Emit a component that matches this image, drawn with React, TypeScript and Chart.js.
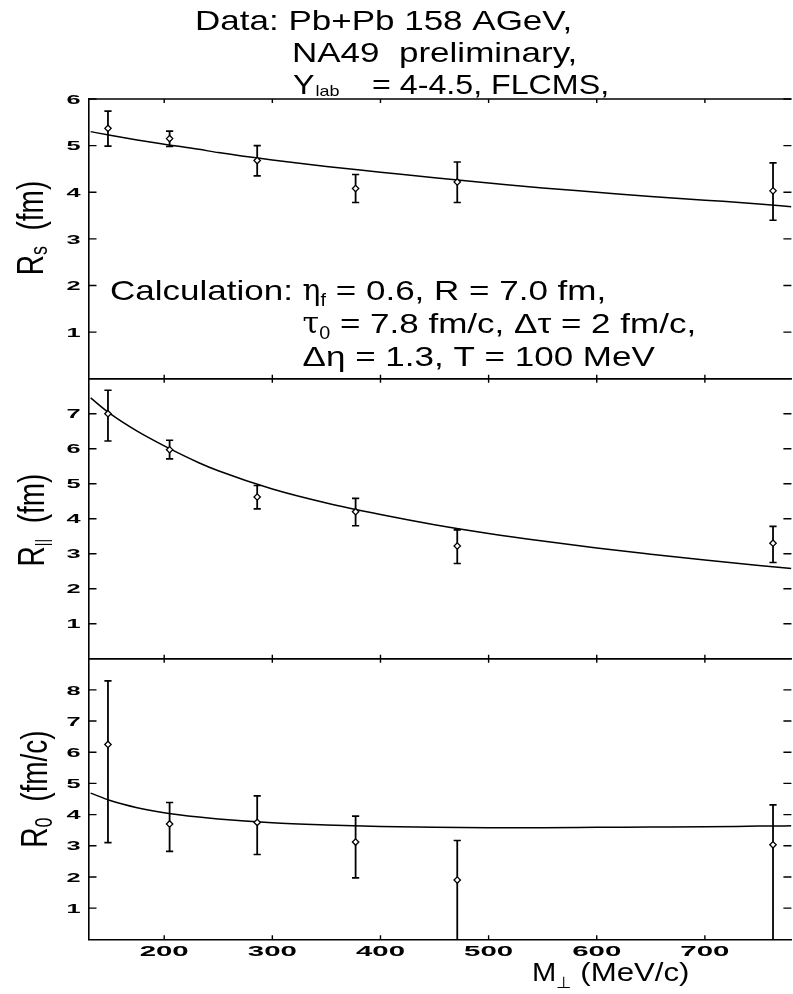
import React, { useEffect, useRef } from "react";
import { Chart, registerables } from "chart.js";
Chart.register(...registerables);

// ---- data ----
const MT = [148, 205, 286, 377, 471, 763];
const RS = [5.37, 5.15, 4.68, 4.08, 4.22, 4.03];
const RS_LO = [4.99, 4.98, 4.35, 3.78, 3.78, 3.4];
const RS_HI = [5.74, 5.31, 5.0, 4.38, 4.65, 4.63];
const RL = [7.0, 5.97, 4.62, 4.2, 3.22, 3.3];
const RL_LO = [6.22, 5.71, 4.28, 3.8, 2.72, 2.75];
const RL_HI = [7.67, 6.24, 4.95, 4.58, 3.68, 3.78];
const RO = [6.25, 3.7, 3.75, 3.12, 1.9, 3.03];
const RO_LO = [3.1, 2.82, 2.72, 1.97, -0.5, -0.5];
const RO_HI = [8.29, 4.39, 4.6, 3.95, 3.17, 4.31];

const CURVE_X = [132, 150, 175, 200, 232, 250, 300, 350, 400, 450, 500, 550, 600, 650, 700, 750, 780];
const RS_FIT = [5.3, 5.22, 5.12, 5.03, 4.92, 4.85, 4.69, 4.55, 4.43, 4.31, 4.2, 4.09, 4.0, 3.91, 3.83, 3.75, 3.69];
const RL_FIT = [7.45, 7.0, 6.5, 6.08, 5.6, 5.37, 4.85, 4.45, 4.12, 3.83, 3.58, 3.36, 3.16, 2.985, 2.82, 2.665, 2.575];
const RO_FIT = [4.69, 4.45, 4.22, 4.06, 3.92, 3.86, 3.74, 3.67, 3.62, 3.59, 3.58, 3.58, 3.59, 3.6, 3.61, 3.63, 3.64];

const X_TICKS = [200, 300, 400, 500, 600, 700];
const RS_TICKS = [1, 2, 3, 4, 5, 6];
const RL_TICKS = [1, 2, 3, 4, 5, 6, 7];
const RO_TICKS = [1, 2, 3, 4, 5, 6, 7, 8];
const X_MIN = 130;
const X_MAX = 780;

const W = 797;
const H = 994;
const SANS = "'Liberation Sans', Arial, sans-serif";

type Seg = { t: string; font: string; sx?: number; dy?: number; dx?: number };

function segsWidth(ctx: CanvasRenderingContext2D, segs: Seg[]) {
  let w = 0;
  for (const s of segs) {
    ctx.font = s.font;
    w += (s.dx ?? 0) + ctx.measureText(s.t).width * (s.sx ?? 1);
  }
  return w;
}

function drawSegs(ctx: CanvasRenderingContext2D, segs: Seg[], x: number, y: number) {
  let cx = x;
  for (const s of segs) {
    const sx = s.sx ?? 1;
    cx += s.dx ?? 0;
    ctx.save();
    ctx.font = s.font;
    ctx.textAlign = "left";
    ctx.textBaseline = "alphabetic";
    ctx.translate(cx, y + (s.dy ?? 0));
    ctx.scale(sx, 1);
    ctx.fillText(s.t, 0, 0);
    ctx.restore();
    ctx.font = s.font;
    cx += ctx.measureText(s.t).width * sx;
  }
  return cx;
}

function drawRotated(ctx: CanvasRenderingContext2D, segs: Seg[], bx: number, cy: number, stretch: number) {
  ctx.save();
  ctx.translate(bx, cy);
  ctx.rotate(-Math.PI / 2);
  ctx.scale(1, stretch);
  const w = segsWidth(ctx, segs);
  drawSegs(ctx, segs, -w / 2, 0);
  ctx.restore();
}

type Panel = {
  top: number;
  bottom: number;
  yMax: number;
  ticks: number[];
  vals: number[];
  lo: number[];
  hi: number[];
  fit: number[];
  title: Seg[];
  titleX: number;
  titleY: number;
  extra?: (ctx: CanvasRenderingContext2D, chart: any) => void;
};

const F28 = `28px ${SANS}`;
const TICK_FONT = `bold 13px ${SANS}`;

function drawHeader(ctx: CanvasRenderingContext2D) {
  drawSegs(ctx, [{ t: "Data: Pb+Pb 158 AGeV,", font: F28, sx: 1.25 }], 195, 29.5);
  drawSegs(ctx, [{ t: "NA49  preliminary,", font: F28, sx: 1.25 }], 292, 62);
  drawSegs(ctx, [{ t: "Y", font: F28, sx: 1.15 }, { t: "lab", font: `15px ${SANS}`, sx: 1.2, dx: 1, dy: 2 }], 293, 94);
  drawSegs(ctx, [{ t: "= 4-4.5, FLCMS,", font: F28, sx: 1.15 }], 372, 94);

  const sx = 1.25;
  const xEta = drawSegs(ctx, [{ t: "Calculation: ", font: F28, sx }], 110, 300);
  drawSegs(
    ctx,
    [
      { t: "\u03b7", font: `30px 'DejaVu Serif', serif`, sx: 1.0 },
      { t: "f", font: `18px ${SANS}`, sx: 1.1, dy: 6 },
      { t: " = 0.6, R = 7.0 fm,", font: F28, sx },
    ],
    xEta,
    300
  );
  drawSegs(
    ctx,
    [
      { t: "\u03c4", font: `30px 'DejaVu Serif', serif`, sx: 1.0 },
      { t: "0", font: `18px ${SANS}`, sx: 1.1, dy: 6 },
      { t: " = 7.8 fm/c, \u0394\u03c4 = 2 fm/c,", font: F28, sx },
    ],
    xEta,
    333
  );
  drawSegs(ctx, [{ t: "\u0394\u03b7 = 1.3, T = 100 MeV", font: F28, sx }], xEta, 366);
}

function drawXAxisLabels(ctx: CanvasRenderingContext2D, chart: any) {
  const x = chart.scales.x;
  ctx.save();
  ctx.font = `bold 14px ${SANS}`;
  for (const v of X_TICKS) {
    const px = x.getPixelForValue(v);
    const t = String(v);
    const w = ctx.measureText(t).width * 2.1;
    ctx.save();
    ctx.translate(px - w / 2, 956);
    ctx.scale(2.1, 1);
    ctx.fillText(t, 0, 0);
    ctx.restore();
  }
  ctx.restore();
  drawSegs(
    ctx,
    [
      { t: "M", font: `26px ${SANS}`, sx: 1.12 },
      { t: "\u22a5", font: `16px 'DejaVu Sans', sans-serif`, sx: 1.1, dy: 7 },
      { t: " (MeV/c)", font: `26px ${SANS}`, sx: 1.2 },
    ],
    532,
    981
  );
}

const PANELS: Panel[] = [
  {
    top: 99,
    bottom: 378.7,
    yMax: 6,
    ticks: RS_TICKS,
    vals: RS,
    lo: RS_LO,
    hi: RS_HI,
    fit: RS_FIT,
    title: [
      { t: "R", font: F28 },
      { t: "s", font: `18px ${SANS}`, dy: 3 },
      { t: "  (fm)", font: F28 },
    ],
    titleX: 43,
    titleY: 228,
    extra: (ctx) => drawHeader(ctx),
  },
  {
    top: 378.7,
    bottom: 658.7,
    yMax: 8,
    ticks: RL_TICKS,
    vals: RL,
    lo: RL_LO,
    hi: RL_HI,
    fit: RL_FIT,
    title: [
      { t: "R", font: F28 },
      { t: "||", font: `14px ${SANS}`, dy: 3 },
      { t: "  (fm)", font: F28 },
    ],
    titleX: 44,
    titleY: 520,
  },
  {
    top: 658.7,
    bottom: 939.3,
    yMax: 9,
    ticks: RO_TICKS,
    vals: RO,
    lo: RO_LO,
    hi: RO_HI,
    fit: RO_FIT,
    title: [
      { t: "R", font: F28 },
      { t: "0", font: `18px ${SANS}`, dy: 4 },
      { t: "  (fm/c)", font: F28 },
    ],
    titleX: 47,
    titleY: 789,
    extra: (ctx, chart) => drawXAxisLabels(ctx, chart),
  },
];

function makeChart(canvas: HTMLCanvasElement, P: Panel) {
  const points = MT.map((x, i) => ({ x, y: P.vals[i] }));
  const bars: any[] = [];
  MT.forEach((x, i) => {
    bars.push({ x, y: P.lo[i] }, { x, y: P.hi[i] }, { x, y: null });
  });
  const curve = CURVE_X.map((x, i) => ({ x, y: P.fit[i] }));

  const decor = {
    id: "decor",
    afterDraw(chart: any) {
      const ctx: CanvasRenderingContext2D = chart.ctx;
      const a = chart.chartArea;
      const xs = chart.scales.x;
      const ys = chart.scales.y;
      ctx.save();
      ctx.strokeStyle = "#000";
      ctx.fillStyle = "#000";
      ctx.lineWidth = 1.6;
      ctx.beginPath();
      ctx.moveTo(a.left, a.top);
      ctx.lineTo(a.right, a.top);
      ctx.stroke();
      ctx.lineWidth = 1.4;
      for (const v of X_TICKS) {
        const px = xs.getPixelForValue(v);
        ctx.beginPath();
        ctx.moveTo(px, a.top);
        ctx.lineTo(px, a.top + 4);
        ctx.moveTo(px, a.bottom);
        ctx.lineTo(px, a.bottom - 4);
        ctx.stroke();
      }
      ctx.font = TICK_FONT;
      for (const v of P.ticks) {
        const py = ys.getPixelForValue(v);
        ctx.beginPath();
        ctx.moveTo(a.left, py);
        ctx.lineTo(a.left + 8, py);
        ctx.moveTo(a.right, py);
        ctx.lineTo(a.right - 8, py);
        ctx.stroke();
        const t = String(v);
        const w = ctx.measureText(t).width * 1.95;
        ctx.save();
        ctx.translate(80.5 - w, py + 4.7);
        ctx.scale(1.95, 1);
        ctx.fillText(t, 0, 0);
        ctx.restore();
      }
      drawRotated(ctx, P.title, P.titleX, P.titleY, 1.3);
      if (P.extra) P.extra(ctx, chart);
      ctx.restore();
    },
  };

  return new Chart(canvas, {
    type: "scatter",
    data: {
      datasets: [
        {
          data: points,
          showLine: false,
          pointStyle: "rectRot",
          pointRadius: 3.2,
          pointBorderWidth: 1.3,
          pointBorderColor: "#000",
          pointBackgroundColor: "#fff",
          clip: 0,
        } as any,
        {
          data: bars,
          showLine: true,
          spanGaps: false,
          borderColor: "#000",
          borderWidth: 1.8,
          pointStyle: "line",
          pointRadius: 3.6,
          pointBorderWidth: 1.6,
          pointBorderColor: "#000",
          clip: 0,
        } as any,
        {
          data: curve,
          showLine: true,
          borderColor: "#000",
          borderWidth: 1.5,
          pointRadius: 0,
          cubicInterpolationMode: "monotone",
          clip: 0,
        } as any,
      ],
    },
    options: {
      responsive: false,
      animation: false,
      devicePixelRatio: 1,
      events: [],
      layout: { padding: { top: P.top, bottom: H - P.bottom, left: 0, right: 0 } },
      plugins: { legend: { display: false }, tooltip: { enabled: false } },
      scales: {
        x: {
          type: "linear",
          min: X_MIN,
          max: X_MAX,
          position: "bottom",
          grid: { display: false },
          ticks: { display: false },
          border: { display: true, color: "#000", width: 1.6 },
          afterFit: (s: any) => {
            s.height = 0;
          },
        },
        y: {
          type: "linear",
          min: 0,
          max: P.yMax,
          position: "left",
          grid: { display: false },
          ticks: { display: false },
          border: { display: true, color: "#000", width: 1.6 },
          afterFit: (s: any) => {
            s.width = 88.5;
          },
        },
      },
    } as any,
    plugins: [decor],
  });
}

export default function App() {
  const r1 = useRef<HTMLCanvasElement>(null);
  const r2 = useRef<HTMLCanvasElement>(null);
  const r3 = useRef<HTMLCanvasElement>(null);
  useEffect(() => {
    const refs = [r1, r2, r3];
    const charts = PANELS.map((P, i) => makeChart(refs[i].current as HTMLCanvasElement, P));
    return () => charts.forEach((c) => c.destroy());
  }, []);
  const cs: React.CSSProperties = { position: "absolute", left: 0, top: 0, width: W, height: H };
  return (
    <div style={{ position: "absolute", left: 0, top: 0, width: 793, height: 994, overflow: "hidden", background: "#fff" }}>
      <canvas ref={r1} width={W} height={H} style={cs} />
      <canvas ref={r2} width={W} height={H} style={cs} />
      <canvas ref={r3} width={W} height={H} style={cs} />
    </div>
  );
}
